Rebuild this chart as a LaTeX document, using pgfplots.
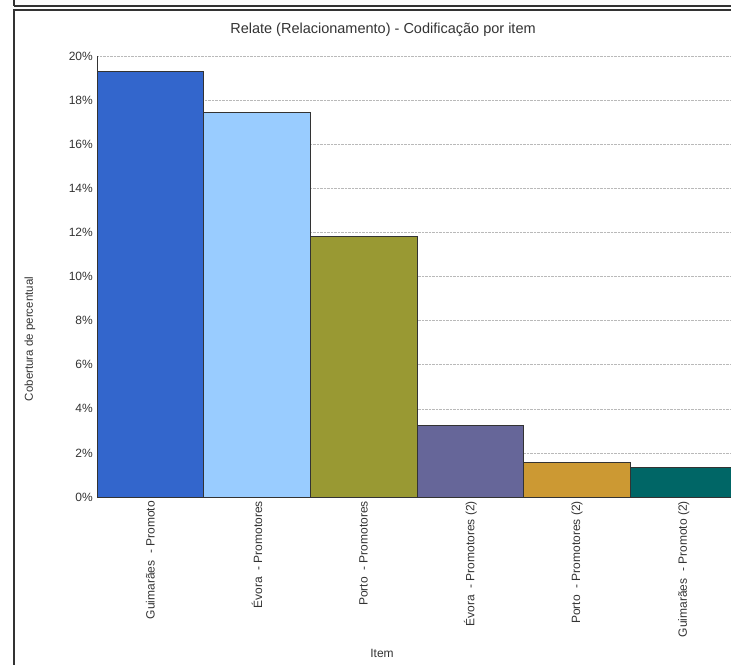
\documentclass[border=0pt]{standalone}
\usepackage{pgfplots}
\pgfplotsset{compat=1.18}
\usepackage{fontspec}
\setmainfont{Liberation Sans}
\definecolor{c1}{HTML}{3366CC}
\definecolor{c2}{HTML}{99CCFF}
\definecolor{c3}{HTML}{999933}
\definecolor{c4}{HTML}{666699}
\definecolor{c5}{HTML}{CC9933}
\definecolor{c6}{HTML}{006666}
\definecolor{txt}{HTML}{333333}
\begin{document}
\begin{tikzpicture}
\path[use as bounding box] (0pt,0pt) rectangle (731pt,665pt);
% frame
\draw[line width=1.5pt, color=txt] (14pt,665pt) -- (14pt,659pt);
\draw[line width=1.5pt, color=txt] (14pt,659pt) -- (731pt,659pt);
\draw[line width=1.2pt, color=txt] (731pt,655pt) -- (14pt,655pt) -- (14pt,0pt);
\begin{axis}[
  at={(97pt,168pt)}, anchor=south west,
  scale only axis, width=634pt, height=441pt,
  xmin=-0.5, xmax=5.444, ymin=0, ymax=20,
  ybar, bar width=1,
  axis x line*=bottom, axis y line*=left,
  axis line style={color=txt, line width=0.8pt, -},
  ymajorgrids, grid style={densely dotted, color=gray!55, line width=0.45pt},
  ytick={0,2,...,20},
  yticklabel={\pgfmathprintnumber{\tick}\%},
  yticklabel style={font=\fontsize{12pt}{14pt}\selectfont, color=txt, inner sep=0pt},
  yticklabel shift=4pt,
  /pgf/number format/assume math mode=true,
  xtick={0,1,2,3,4,5},
  xticklabels={Guimarães\ \ - Promoto, Évora\ \ - Promotores, Porto\ \ - Promotores, Évora\ \ - Promotores (2), Porto\ \ - Promotores (2), Guimarães\ \ - Promoto (2)},
  xticklabel style={rotate=90, anchor=east, font=\fontsize{12pt}{14pt}\selectfont, color=txt, inner sep=0pt},
  xticklabel shift=4pt,
  major tick length=0pt,
  clip=true,
]
\addplot[bar shift=0pt, fill=c1, draw=black!80, line width=0.7pt] coordinates {(0,19.29)};
\addplot[bar shift=0pt, fill=c2, draw=black!80, line width=0.7pt] coordinates {(1,17.46)};
\addplot[bar shift=0pt, fill=c3, draw=black!80, line width=0.7pt] coordinates {(2,11.84)};
\addplot[bar shift=0pt, fill=c4, draw=black!80, line width=0.7pt] coordinates {(3,3.27)};
\addplot[bar shift=0pt, fill=c5, draw=black!80, line width=0.7pt] coordinates {(4,1.57)};
\addplot[bar shift=0pt, fill=c6, draw=black!80, line width=0.7pt] coordinates {(5,1.36)};
\end{axis}
\node[font=\fontsize{14.5pt}{16pt}\selectfont, color=txt] at (383pt,635pt) {Relate (Relacionamento) - Codificação por item};
\node[font=\fontsize{11.5pt}{13pt}\selectfont, color=txt, rotate=90] at (30pt,326pt) {Cobertura de percentual};
\node[font=\fontsize{12pt}{14pt}\selectfont, color=txt] at (382pt,12pt) {Item};
\end{tikzpicture}
\end{document}
